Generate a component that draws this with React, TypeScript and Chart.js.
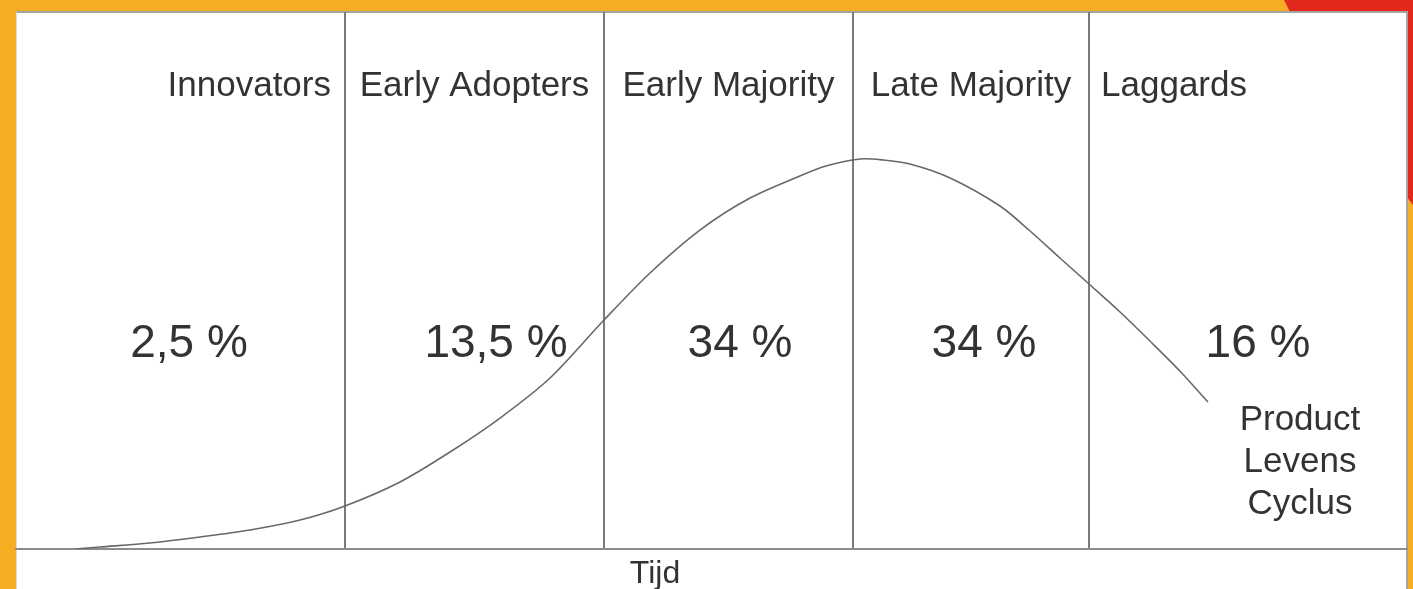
import React, { useEffect, useRef } from "react";
import { Chart, registerables } from "chart.js";

Chart.register(...registerables);

// ---- data ----
const categories = ["Innovators", "Early Adopters", "Early Majority", "Late Majority", "Laggards"];
const shares = ["2,5 %", "13,5 %", "34 %", "34 %", "16 %"];
// segment boundaries on the time axis (0..100)
const boundaries = [23.65, 42.27, 60.17, 77.14];
// adoption curve (time, adoption level 0..100)
const timeValues = [
  4.24, 6.04, 9.63, 13.23, 16.82, 20.42, 23.65, 27.61, 31.2, 34.8, 38.39, 42.27, 45.58, 49.17,
  52.77, 56.36, 58.23, 60.68, 62.33, 64.27, 67.15, 70.74, 72.9, 75.05, 77.14, 79.37, 81.52,
  83.67, 85.69,
];
const adoptionValues = [
  0, 0.37, 1.12, 2.23, 3.54, 5.4, 8.01, 12.48, 18.06, 24.39, 31.84, 42.64, 51.4, 59.4, 65.36,
  69.46, 71.32, 72.63, 72.44, 71.69, 69.09, 63.87, 59.22, 54.19, 49.35, 44.13, 38.73, 33.15,
  27.37,
];
const curveLabel = ["Product", "Levens", "Cyclus"];
const axisTitle = "Tijd";

// ---- layout constants (not data) ----
const W = 1413;
const H = 589;
const FONT = '"Liberation Sans", Arial, Helvetica, sans-serif';
const TEXT = "#333333";
const PERCENT_X = [12.44, 34.51, 52.05, 69.59, 89.29];
const TITLE_X = 45.94;

const decor = {
  id: "decor",
  beforeDraw(chart: any) {
    const { ctx } = chart;
    ctx.save();
    ctx.fillStyle = "#F5AE23";
    ctx.fillRect(0, 0, W, H);
    // red corner shape
    ctx.fillStyle = "#E3291C";
    ctx.beginPath();
    ctx.moveTo(1284, 0);
    ctx.lineTo(W, 0);
    ctx.lineTo(W, 205);
    ctx.lineTo(1407, 197);
    ctx.lineTo(1290, 12);
    ctx.closePath();
    ctx.fill();
    // white panel
    ctx.fillStyle = "#ffffff";
    ctx.fillRect(16, 12, 1391, H - 12);
    ctx.fillStyle = "#a3a3a3";
    ctx.fillRect(16, 11, 1392, 2);
    ctx.fillRect(1406, 11, 2, H - 11);
    ctx.fillStyle = "#dcdcdc";
    ctx.fillRect(16, 12, 1, H - 12);
    ctx.restore();
  },
  afterDraw(chart: any) {
    const { ctx } = chart;
    const xs = chart.scales.x;
    const bpx = boundaries.map((b) => xs.getPixelForValue(b));
    ctx.save();
    ctx.fillStyle = TEXT;
    ctx.textBaseline = "alphabetic";
    // category headers
    ctx.font = `35px ${FONT}`;
    categories.forEach((c, i) => {
      if (i === 0) {
        ctx.textAlign = "right";
        ctx.fillText(c, bpx[0] - 14, 96);
      } else if (i === categories.length - 1) {
        ctx.textAlign = "left";
        ctx.fillText(c, bpx[bpx.length - 1] + 12, 96);
      } else {
        ctx.textAlign = "center";
        ctx.fillText(c, (bpx[i - 1] + bpx[i]) / 2, 96);
      }
    });
    // shares
    ctx.font = `46px ${FONT}`;
    ctx.textAlign = "center";
    shares.forEach((s, i) => {
      ctx.fillText(s, xs.getPixelForValue(PERCENT_X[i]), 357);
    });
    // curve label
    ctx.font = `35px ${FONT}`;
    const endX = xs.getPixelForValue(timeValues[timeValues.length - 1]) + 92;
    curveLabel.forEach((t, i) => {
      ctx.fillText(t, endX, 430 + i * 42);
    });
    // axis title
    ctx.font = `32px ${FONT}`;
    ctx.fillText(axisTitle, xs.getPixelForValue(TITLE_X), 583);
    ctx.restore();
  },
};

export default function App() {
  const ref = useRef<HTMLCanvasElement | null>(null);
  useEffect(() => {
    if (!ref.current) return;
    const chart = new Chart(ref.current, {
      type: "line",
      data: {
        datasets: [
          {
            data: timeValues.map((x, i) => ({ x, y: adoptionValues[i] })),
            borderColor: "#686868",
            borderWidth: 1.6,
            pointRadius: 0,
            fill: false,
            tension: 0.3,
          },
        ],
      },
      options: {
        animation: false,
        responsive: false,
        events: [],
        layout: { padding: { left: 16, top: 12, right: 6, bottom: 40 } },
        plugins: { legend: { display: false }, tooltip: { enabled: false } },
        scales: {
          x: {
            type: "linear",
            min: 0,
            max: 100,
            afterBuildTicks: (axis: any) => {
              axis.ticks = boundaries.map((v) => ({ value: v }));
            },
            ticks: { display: false },
            grid: { display: true, color: "#7a7a7a", lineWidth: 2, drawTicks: false },
            border: { display: true, color: "#8c8c8c", width: 2 },
          },
          y: { type: "linear", min: 0, max: 100, display: false },
        },
      },
      plugins: [decor],
    } as any);
    return () => chart.destroy();
  }, []);
  return (
    <div style={{ position: "absolute", left: 0, top: 0, width: W, height: H }}>
      <canvas ref={ref} width={W} height={H} style={{ display: "block" }} />
    </div>
  );
}
